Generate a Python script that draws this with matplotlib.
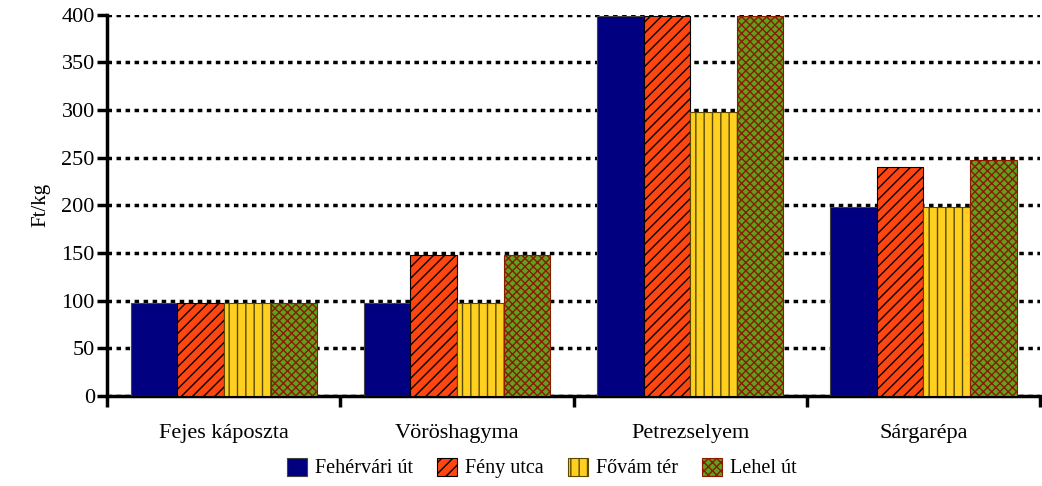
import matplotlib.pyplot as plt
import numpy as np

plt.rcParams['font.family'] = ['Liberation Serif', 'DejaVu Serif']
plt.rcParams['hatch.linewidth'] = 1.0

categories = ['Fejes káposzta', 'Vöröshagyma', 'Petrezselyem', 'Sárgarépa']
series = ['Fehérvári út', 'Fény utca', 'Fővám tér', 'Lehel út']
fehervari = [98, 98, 398, 198]
feny = [98, 148, 398, 240]
fovam = [98, 98, 298, 198]
lehel = [98, 148, 398, 248]
yticks = [0, 50, 100, 150, 200, 250, 300, 350, 400]

values = [fehervari, feny, fovam, lehel]
faces = ['#000080', '#FF4510', '#FFD020', '#5FA01E']
hatches = [None, '///', '||', 'xxxx']
hcolors = ['#444444', 'black', '#5a4a00', '#8B1A00']

fig = plt.figure(figsize=(10.42, 4.86), dpi=100)
ax = fig.add_axes([0.103, 0.185, 0.895, 0.785])

x = np.arange(len(categories))
w = 0.2
for i, vals in enumerate(values):
    ax.bar(x + (i - 1.5) * w, vals, w, color=faces[i], edgecolor=hcolors[i],
           hatch=hatches[i], linewidth=0.8, label=series[i], zorder=3)

ax.set_xlim(-0.5, 3.5)
ax.set_ylim(0, 400)
ax.set_yticks(yticks)
ax.set_xticks(x)
ax.set_xticklabels(categories, fontsize=16)
ax.set_xticks(np.arange(-0.5, 4, 1), minor=True)
ax.tick_params(axis='x', which='major', length=0, pad=20)
ax.tick_params(axis='x', which='minor', length=8, width=2.5, direction='out')
ax.tick_params(axis='y', length=7, width=2.5, direction='out', labelsize=16, pad=2)
ax.yaxis.grid(True, color='black', linestyle=(0, (1.3, 1.3)), linewidth=2.5, zorder=0)
ax.set_axisbelow(True)
for s in ['top', 'right']:
    ax.spines[s].set_visible(False)
ax.spines['left'].set_linewidth(2.5)
ax.spines['bottom'].set_linewidth(2.5)
ax.set_ylabel('Ft/kg', fontsize=15, labelpad=8)

fig.legend(*ax.get_legend_handles_labels(), loc='center', bbox_to_anchor=(0.52, 0.037), ncol=4,
           frameon=False, fontsize=14.5, handlelength=1.0, handleheight=1.0,
           handletextpad=0.4, columnspacing=1.2, borderpad=0)

fig.savefig('out.png', dpi=100)
